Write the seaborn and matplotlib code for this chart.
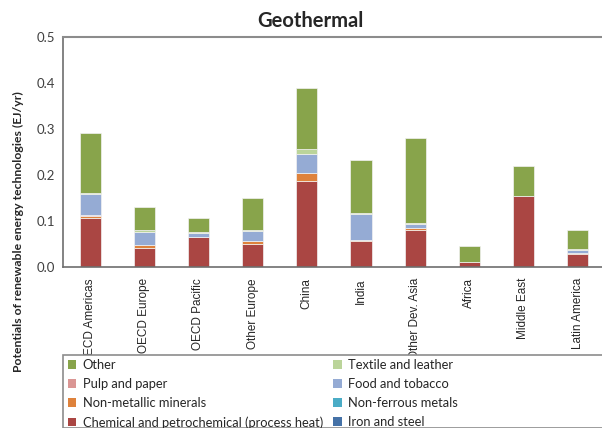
import numpy as np
import pandas as pd
import matplotlib
matplotlib.use("Agg")
import matplotlib.pyplot as plt
import seaborn as sns
from matplotlib.patches import Patch, Rectangle

regions = ['OECD Americas', 'OECD Europe', 'OECD Pacific', 'Other Europe', 'China',
           'India', 'Other Dev. Asia', 'Africa', 'Middle East', 'Latin America']

# stacked from the bottom up
iron_steel   = [0.0, 0.0, 0.0, 0.0, 0.0, 0.0, 0.0, 0.0, 0.0, 0.0]
chemical     = [0.106, 0.041, 0.065, 0.050, 0.188, 0.057, 0.080, 0.010, 0.155, 0.028]
non_ferrous  = [0.0, 0.0, 0.0, 0.0, 0.0, 0.0, 0.0, 0.0, 0.0, 0.0]
non_metallic = [0.005, 0.006, 0.0, 0.006, 0.017, 0.001, 0.004, 0.0, 0.0, 0.002]
pulp_paper   = [0.001, 0.001, 0.0, 0.001, 0.0, 0.001, 0.0, 0.0, 0.0, 0.0]
food_tobacco = [0.046, 0.029, 0.009, 0.022, 0.041, 0.057, 0.009, 0.0, 0.0, 0.0075]
textile      = [0.003, 0.003, 0.002, 0.001, 0.011, 0.002, 0.002, 0.0, 0.0, 0.001]
other        = [0.131, 0.051, 0.030, 0.071, 0.132, 0.115, 0.185, 0.035, 0.065, 0.042]

series = [
    ('Iron and steel', iron_steel, '#4572A7'),
    ('Chemical and petrochemical (process heat)', chemical, '#AA4643'),
    ('Non-ferrous metals', non_ferrous, '#4BACC6'),
    ('Non-metallic minerals', non_metallic, '#DE823C'),
    ('Pulp and paper', pulp_paper, '#DA9694'),
    ('Food and tobacco', food_tobacco, '#95ABD4'),
    ('Textile and leather', textile, '#BBD49A'),
    ('Other', other, '#88A44B'),
]

sns.set_style("white")
plt.rcParams['font.family'] = ['Lato', 'DejaVu Sans']

fig = plt.figure(figsize=(6.02, 4.28), dpi=100)
ax = fig.add_axes([63 / 602, 1 - 267 / 428, 1 - 63 / 602, (267 - 37) / 428])

bottom = np.zeros(len(regions))
for name, vals, col in series:
    df = pd.DataFrame({'Region': regions, 'Value': vals})
    sns.barplot(data=df, x='Region', y='Value', order=regions, color=col,
                bottom=bottom.copy(), width=0.39, edgecolor='#f2f2f2',
                linewidth=0.5, saturation=1, ax=ax, errorbar=None)
    bottom += np.array(vals)

ax.set_ylim(0, 0.5)
ax.set_xlim(-0.5, 9.45)
ax.set_yticks([0.0, 0.1, 0.2, 0.3, 0.4, 0.5])
ax.set_yticklabels(['0.0', '0.1', '0.2', '0.3', '0.4', '0.5'], fontsize=9.5, color='#404040')
ax.set_xticks(range(len(regions)))
ax.set_xticklabels(regions, rotation=90, fontsize=8.5, family='Liberation Sans',
                   va='top', ha='center')
ax.tick_params(axis='both', length=0, pad=6)
ax.tick_params(axis='x', pad=8)
ax.set_xlabel('')
ax.set_ylabel('')
for s in ['left', 'bottom']:
    ax.spines[s].set_color('#6e6e6e')
    ax.spines[s].set_linewidth(1.2)
ax.spines['top'].set_color('#8c8c8c')
ax.spines['top'].set_linewidth(1.5)
ax.spines['right'].set_visible(False)

fig.text(0.516, 0.952, 'Geothermal', ha='center', va='center', fontsize=14.5, fontweight='bold')
fig.text(0.03, 0.46, 'Potentials of renewable energy technologies (EJ/yr)', rotation=90,
         ha='center', va='center', fontsize=8.8, fontweight='bold')

# legend box drawn separately so it runs to the right edge like the original
fig.patches.append(Rectangle((63 / 602, 0.0), 1.0, 1 - 355 / 428, transform=fig.transFigure,
                             facecolor='white', edgecolor='#8c8c8c', linewidth=1.2, zorder=0))

lookup = {name: col for name, _, col in series}
leg_order = ['Other', 'Pulp and paper', 'Non-metallic minerals',
             'Chemical and petrochemical (process heat)',
             'Textile and leather', 'Food and tobacco', 'Non-ferrous metals', 'Iron and steel']
handles = [Patch(facecolor=lookup[n], edgecolor='none', label=n) for n in leg_order]
leg = fig.legend(handles=handles, ncol=2, loc='upper left',
                 bbox_to_anchor=(64 / 602, 1 - 355 / 428),
                 fontsize=9.25, frameon=False,
                 handlelength=0.65, handleheight=0.65, handletextpad=0.5,
                 labelspacing=0.55, borderpad=0.3, borderaxespad=0, columnspacing=0.8)

fig.savefig('out.png', dpi=100)
